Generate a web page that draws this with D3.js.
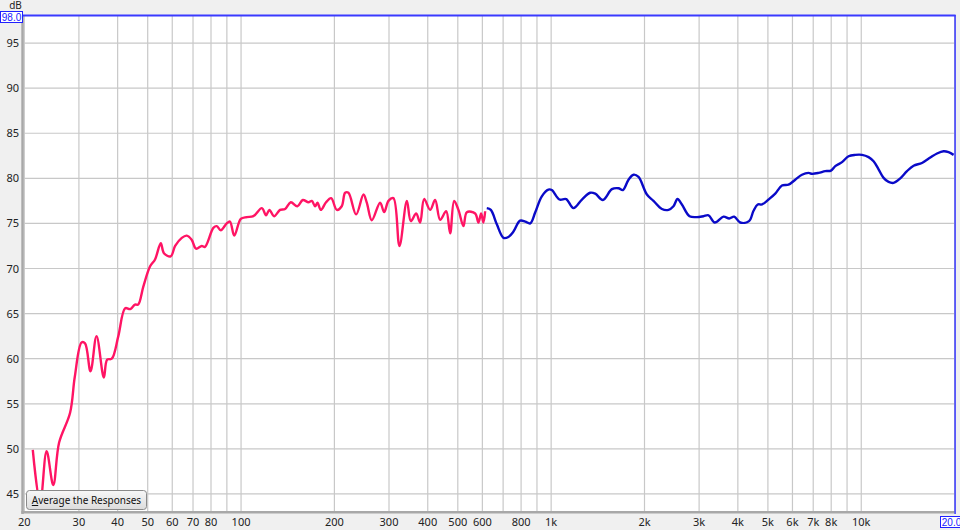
<!DOCTYPE html>
<html><head><meta charset="utf-8">
<script src="https://cdn.jsdelivr.net/npm/d3@7"></script>
<style>
html,body{margin:0;padding:0;background:#f0f0f0;}
svg{display:block;font-family:"Noto Sans","DejaVu Sans",sans-serif;}
</style></head>
<body>
<svg id="c" width="960" height="530"></svg>
<script>
// ---- data ----
const pinkFreq = [21.3,22.5,23.6,24.8,25.9,28.1,29.1,30.6,31.4,32.7,34.2,36.1,37.0,38.3,40.2,42.3,43.9,45.5,46.6,48.4,50.9,52.8,55.1,56.4,59.3,61.3,64.4,66.8,69.3,71.6,74.7,76.5,81.4,83.5,86.0,89.9,92.1,95.1,99.8,104.3,109.6,116.7,120.4,123.4,127.8,133.6,138.7,144.7,151.9,158.2,164.9,169.1,173.3,176.3,180.8,188.0,195.2,203.6,211.2,216.6,222.0,235.0,248.2,254.4,264.0,280.8,289.4,298.8,310.0,324.2,342.6,352.8,367.0,378.0,389.4,407.2,422.6,438.6,458.6,472.4,486.6,502.4,521.4,534.8,568.8,582.8,594.6,604.8,612.6];
const pinkDb   = [49.9,44.0,49.75,46.0,50.7,54.0,58.0,61.8,61.7,58.6,62.5,57.9,59.9,60.0,62.5,65.6,65.5,66.0,66.0,68.0,70.25,71.0,72.8,71.7,71.35,72.5,73.4,73.65,73.2,72.2,72.5,72.4,74.5,74.7,74.25,75.0,75.2,73.65,75.5,75.7,75.8,76.7,75.9,76.5,75.8,76.5,76.6,77.35,76.9,77.6,77.35,77.5,76.9,77.3,76.5,77.35,77.8,76.5,76.9,78.4,78.4,76.0,78.2,77.3,75.35,77.3,76.25,77.5,77.8,72.5,77.5,75.25,76.1,75.1,77.7,76.5,77.6,75.4,76.35,73.9,77.5,76.5,74.7,76.25,76.1,75.1,76.1,75.1,76.35];

const blueFreq = [620,639,668,702,728,756,794,825,856,888,933,980,1005,1064,1118,1180,1257,1336,1387,1468,1570,1649,1704,1776,1844,1913,2036,2138,2276,2390,2480,2556,2640,2794,2952,3100,3218,3370,3596,3752,3894,4070,4346,4494,4636,4784,5024,5280,5550,5828,6126,6438,6762,6934,7284,7654,7986,8246,8668,9102,9566,10056,10560,10958,11372,11804,12250,12712,13360,14044,14748,15698,16698,17550,18432,19126,19854];
const blueDb   = [76.7,76.5,74.9,73.4,73.5,74.1,75.3,75.2,75.0,76.2,78.0,78.75,78.7,77.65,77.7,76.7,77.65,78.4,78.3,77.6,78.8,78.9,78.7,79.85,80.4,80.15,78.2,77.5,76.6,76.5,76.9,77.7,77.1,75.8,75.7,75.8,75.9,75.1,75.75,75.55,75.75,75.1,75.25,76.4,77.1,77.1,77.65,78.3,79.2,79.3,79.85,80.4,80.6,80.5,80.6,80.8,80.85,81.35,81.8,82.45,82.6,82.6,82.35,81.9,81.0,80.05,79.6,79.5,80.0,80.8,81.4,81.7,82.3,82.75,83.0,82.9,82.6];

const gridFreqs = [20,30,40,50,60,70,80,90,100,200,300,400,500,600,700,800,900,1000,2000,3000,4000,5000,6000,7000,8000,9000,10000,20000];
const xTickValues = [20,30,40,50,60,70,80,100,200,300,400,500,600,800,1000,2000,3000,4000,5000,6000,7000,8000,10000,20000];
const xTickLabels = ["20","30","40","50","60","70","80","100","200","300","400","500","600","800","1k","2k","3k","4k","5k","6k","7k","8k","10k","20k"];
const yTicks = [45,50,55,60,65,70,75,80,85,90,95];

// ---- layout ----
const L = 24.3, R = 954.6, T = 16, B = 512;
const x = d3.scaleLog().domain([20,20000]).range([L,R]);
const y = d3.scaleLinear().domain([43,98]).range([B,T]);

const svg = d3.select("#c");
const defs = svg.append("defs");
svg.append("rect").attr("width",960).attr("height",530).attr("fill","#f0f0f0");
svg.append("rect").attr("x",L-1).attr("y",T).attr("width",R-L+2).attr("height",B-T).attr("fill","#ffffff");

defs.append("clipPath").attr("id","clip")
  .append("rect").attr("x",L).attr("y",T).attr("width",R-L+1).attr("height",B-T);

// grid
const g = svg.append("g");
g.selectAll("line.v").data(gridFreqs).join("line")
  .attr("x1",d=>x(d)).attr("x2",d=>x(d)).attr("y1",T).attr("y2",B)
  .attr("stroke","#c8c8c8").attr("stroke-width",1.2);
g.selectAll("line.h").data(yTicks).join("line")
  .attr("x1",L).attr("x2",R).attr("y1",d=>y(d)).attr("y2",d=>y(d))
  .attr("stroke","#c8c8c8").attr("stroke-width",1.2);

// curves
const line = d3.line().x(d=>x(d[0])).y(d=>y(d[1])).curve(d3.curveCatmullRom.alpha(0.5));
const cg = svg.append("g").attr("clip-path","url(#clip)");
cg.append("path").datum(pinkFreq.map((f,i)=>[f,pinkDb[i]]))
  .attr("d",line).attr("fill","none").attr("stroke","#ff1464").attr("stroke-width",2.4).attr("stroke-linejoin","round");
cg.append("path").datum(blueFreq.map((f,i)=>[f,blueDb[i]]))
  .attr("d",line).attr("fill","none").attr("stroke","#0a0ac8").attr("stroke-width",2.4).attr("stroke-linejoin","round");

// frame
svg.append("rect").attr("x",L-3).attr("y",T).attr("width",2.5).attr("height",B-T+2).attr("fill","#a8a8a8");
svg.append("rect").attr("x",L-3).attr("y",B-1).attr("width",R-L+3).attr("height",2.5).attr("fill","#a8a8a8");
svg.append("line").attr("x1",L-2).attr("x2",R+1).attr("y1",T-0.5).attr("y2",T-0.5).attr("stroke","#3a3aff").attr("stroke-width",2);
svg.append("line").attr("x1",R+0.5).attr("x2",R+0.5).attr("y1",T-1).attr("y2",B+2).attr("stroke","#3a3aff").attr("stroke-width",1.5);

// y axis labels
svg.append("g").selectAll("text").data(yTicks).join("text")
  .attr("x",19).attr("y",d=>y(d)+4).attr("text-anchor","end")
  .attr("font-size",11).attr("fill","#222").text(d=>d);
svg.append("text").attr("x",15.5).attr("y",9).attr("text-anchor","middle").attr("font-size",10).attr("fill","#222").text("dB");

// x axis labels
svg.append("g").selectAll("text").data(xTickValues).join("text")
  .attr("x",d=>x(d)).attr("y",526).attr("text-anchor","middle")
  .attr("font-size",11).attr("fill","#222").text((d,i)=>xTickLabels[i]);

// value boxes
function box(bx,by,w,h,txt){
  svg.append("rect").attr("x",bx).attr("y",by).attr("width",w).attr("height",h)
    .attr("fill","#ffffff").attr("stroke","#2020ff").attr("stroke-width",1);
  svg.append("text").attr("x",bx+w/2).attr("y",by+h-2).attr("text-anchor","middle")
    .attr("font-family","Liberation Sans, Arial, sans-serif")
    .attr("font-size",10).attr("fill","#1a1aff").text(txt);
}
box(0.5,11.5,22,11,"98.0");
box(940.5,516.5,22,11,"20.0");

// button
const grad = defs.append("linearGradient").attr("id","bg").attr("x1",0).attr("x2",0).attr("y1",0).attr("y2",1);
grad.append("stop").attr("offset","0%").attr("stop-color","#f7f7f7");
grad.append("stop").attr("offset","100%").attr("stop-color","#dcdcdc");
svg.append("rect").attr("x",26.5).attr("y",490.5).attr("width",120).attr("height",19).attr("rx",3)
  .attr("fill","url(#bg)").attr("stroke","#8a8a8a").attr("stroke-width",1);
const bt = svg.append("text").attr("x",86.5).attr("y",504).attr("text-anchor","middle").attr("font-size",10).attr("fill","#111");
bt.append("tspan").attr("text-decoration","underline").text("A");
bt.append("tspan").text("verage the Responses");
</script>
</body></html>
